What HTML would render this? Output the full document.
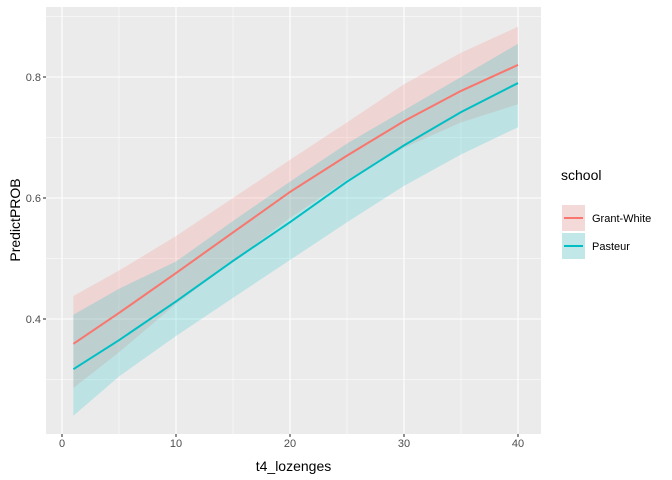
<!DOCTYPE html>
<html><head><meta charset="utf-8"><style>
body{margin:0;background:#fff}
svg{font-family:"Liberation Sans",Arial,sans-serif;display:block}
</style></head><body>
<svg id="chart" width="672" height="480"></svg>
<script>
const xs=[1,5,10,15,20,25,30,35,40];
const gwFit=[.359,.410,.476,.543,.610,.670,.727,.777,.820];
const gwUpper=[.438,.480,.537,.600,.663,.725,.788,.840,.883];
const gwLower=[.286,.345,.425,.495,.567,.630,.683,.725,.755];
const paFit=[.317,.365,.429,.496,.560,.627,.687,.742,.790];
const paUpper=[.407,.450,.495,.562,.627,.690,.745,.800,.855];
const paLower=[.240,.305,.372,.435,.4975,.560,.620,.672,.717];
const xTicks=[0,10,20,30,40];
const yTicks=[0.4,0.6,0.8];
const yTickLabels=["0.4","0.6","0.8"];
const xMinor=[5,15,25,35];
const yMinor=[0.3,0.5,0.7,0.9];
const seriesNames=["Grant-White","Pasteur"];

const NS="http://www.w3.org/2000/svg";
const svg=document.getElementById('chart');
const L=46,R=541,T=7,B=434;
const sx=v=>62+(v-0)*11.4;
const sy=v=>319-(v-0.4)*605;
function mk(tag,attrs,parent){const e=document.createElementNS(NS,tag);for(const k in attrs)e.setAttribute(k,attrs[k]);(parent||svg).appendChild(e);return e;}
const panel=mk('rect',{x:L,y:T,width:R-L,height:B-T,fill:'#EBEBEB'});


xMinor.forEach(v=>{const l=mk('line',{x1:sx(v),x2:sx(v),y1:T,y2:B,stroke:'#fff','stroke-width':0.55});

});
yMinor.forEach(v=>{if(sy(v)<T)return;const l=mk('line',{x1:L,x2:R,y1:sy(v),y2:sy(v),stroke:'#fff','stroke-width':0.55});

});
xTicks.forEach(v=>{const l=mk('line',{x1:sx(v),x2:sx(v),y1:T,y2:B,stroke:'#fff','stroke-width':1.1});


const t=mk('line',{x1:sx(v),x2:sx(v),y1:B,y2:B+3,stroke:'#333','stroke-width':1.1});


const tx=mk('text',{x:sx(v),y:B+13,'text-anchor':'middle','font-size':11,fill:'#4D4D4D'});tx.textContent=v;

});
yTicks.forEach((v,i)=>{const l=mk('line',{x1:L,x2:R,y1:sy(v),y2:sy(v),stroke:'#fff','stroke-width':1.1});


const t=mk('line',{x1:L-3,x2:L,y1:sy(v),y2:sy(v),stroke:'#333','stroke-width':1.1});


const tx=mk('text',{x:L-5,y:sy(v)+4,'text-anchor':'end','font-size':11,fill:'#4D4D4D'});tx.textContent=yTickLabels[i];

});
function band(up,lo,col,name){let d='M'+xs.map((x,i)=>sx(x)+','+sy(up[i])).join(' L');
for(let i=xs.length-1;i>=0;i--)d+=' L'+sx(xs[i])+','+sy(lo[i]);
const p=mk('path',{d:d+'Z',fill:col,'fill-opacity':0.2});

}
function line(f,col,name){const p=mk('polyline',{points:xs.map((x,i)=>sx(x)+','+sy(f[i])).join(' '),fill:'none',stroke:col,'stroke-width':2});

}
band(gwUpper,gwLower,'#F8766D','grant-white-ribbon');
band(paUpper,paLower,'#00BFC4','pasteur-ribbon');
line(gwFit,'#F8766D','grant-white-line');
line(paFit,'#00BFC4','pasteur-line');
const xt=mk('text',{x:(L+R)/2,y:471,'text-anchor':'middle','font-size':14,fill:'#000'});xt.textContent='t4_lozenges';


const yt=mk('text',{x:0,y:0,transform:'translate(20,220) rotate(-90)','text-anchor':'middle','font-size':14,fill:'#000'});yt.textContent='PredictPROB';


const lt=mk('text',{x:561,y:180,'font-size':14,fill:'#000'});lt.textContent='school';


const cols=['#F8766D','#00BFC4'];
seriesNames.forEach((n,i)=>{const y0=205+i*28;
const g=mk('g',{});


mk('rect',{x:562,y:y0,width:23,height:26,fill:'#F2F2F2'},g);
mk('rect',{x:562,y:y0,width:23,height:26,fill:cols[i],'fill-opacity':0.2},g);
mk('line',{x1:564,x2:583,y1:y0+13,y2:y0+13,stroke:cols[i],'stroke-width':2},g);
const t=mk('text',{x:592,y:y0+17,'font-size':11,fill:'#000'},g);t.textContent=n;});
</script>
</body></html>
